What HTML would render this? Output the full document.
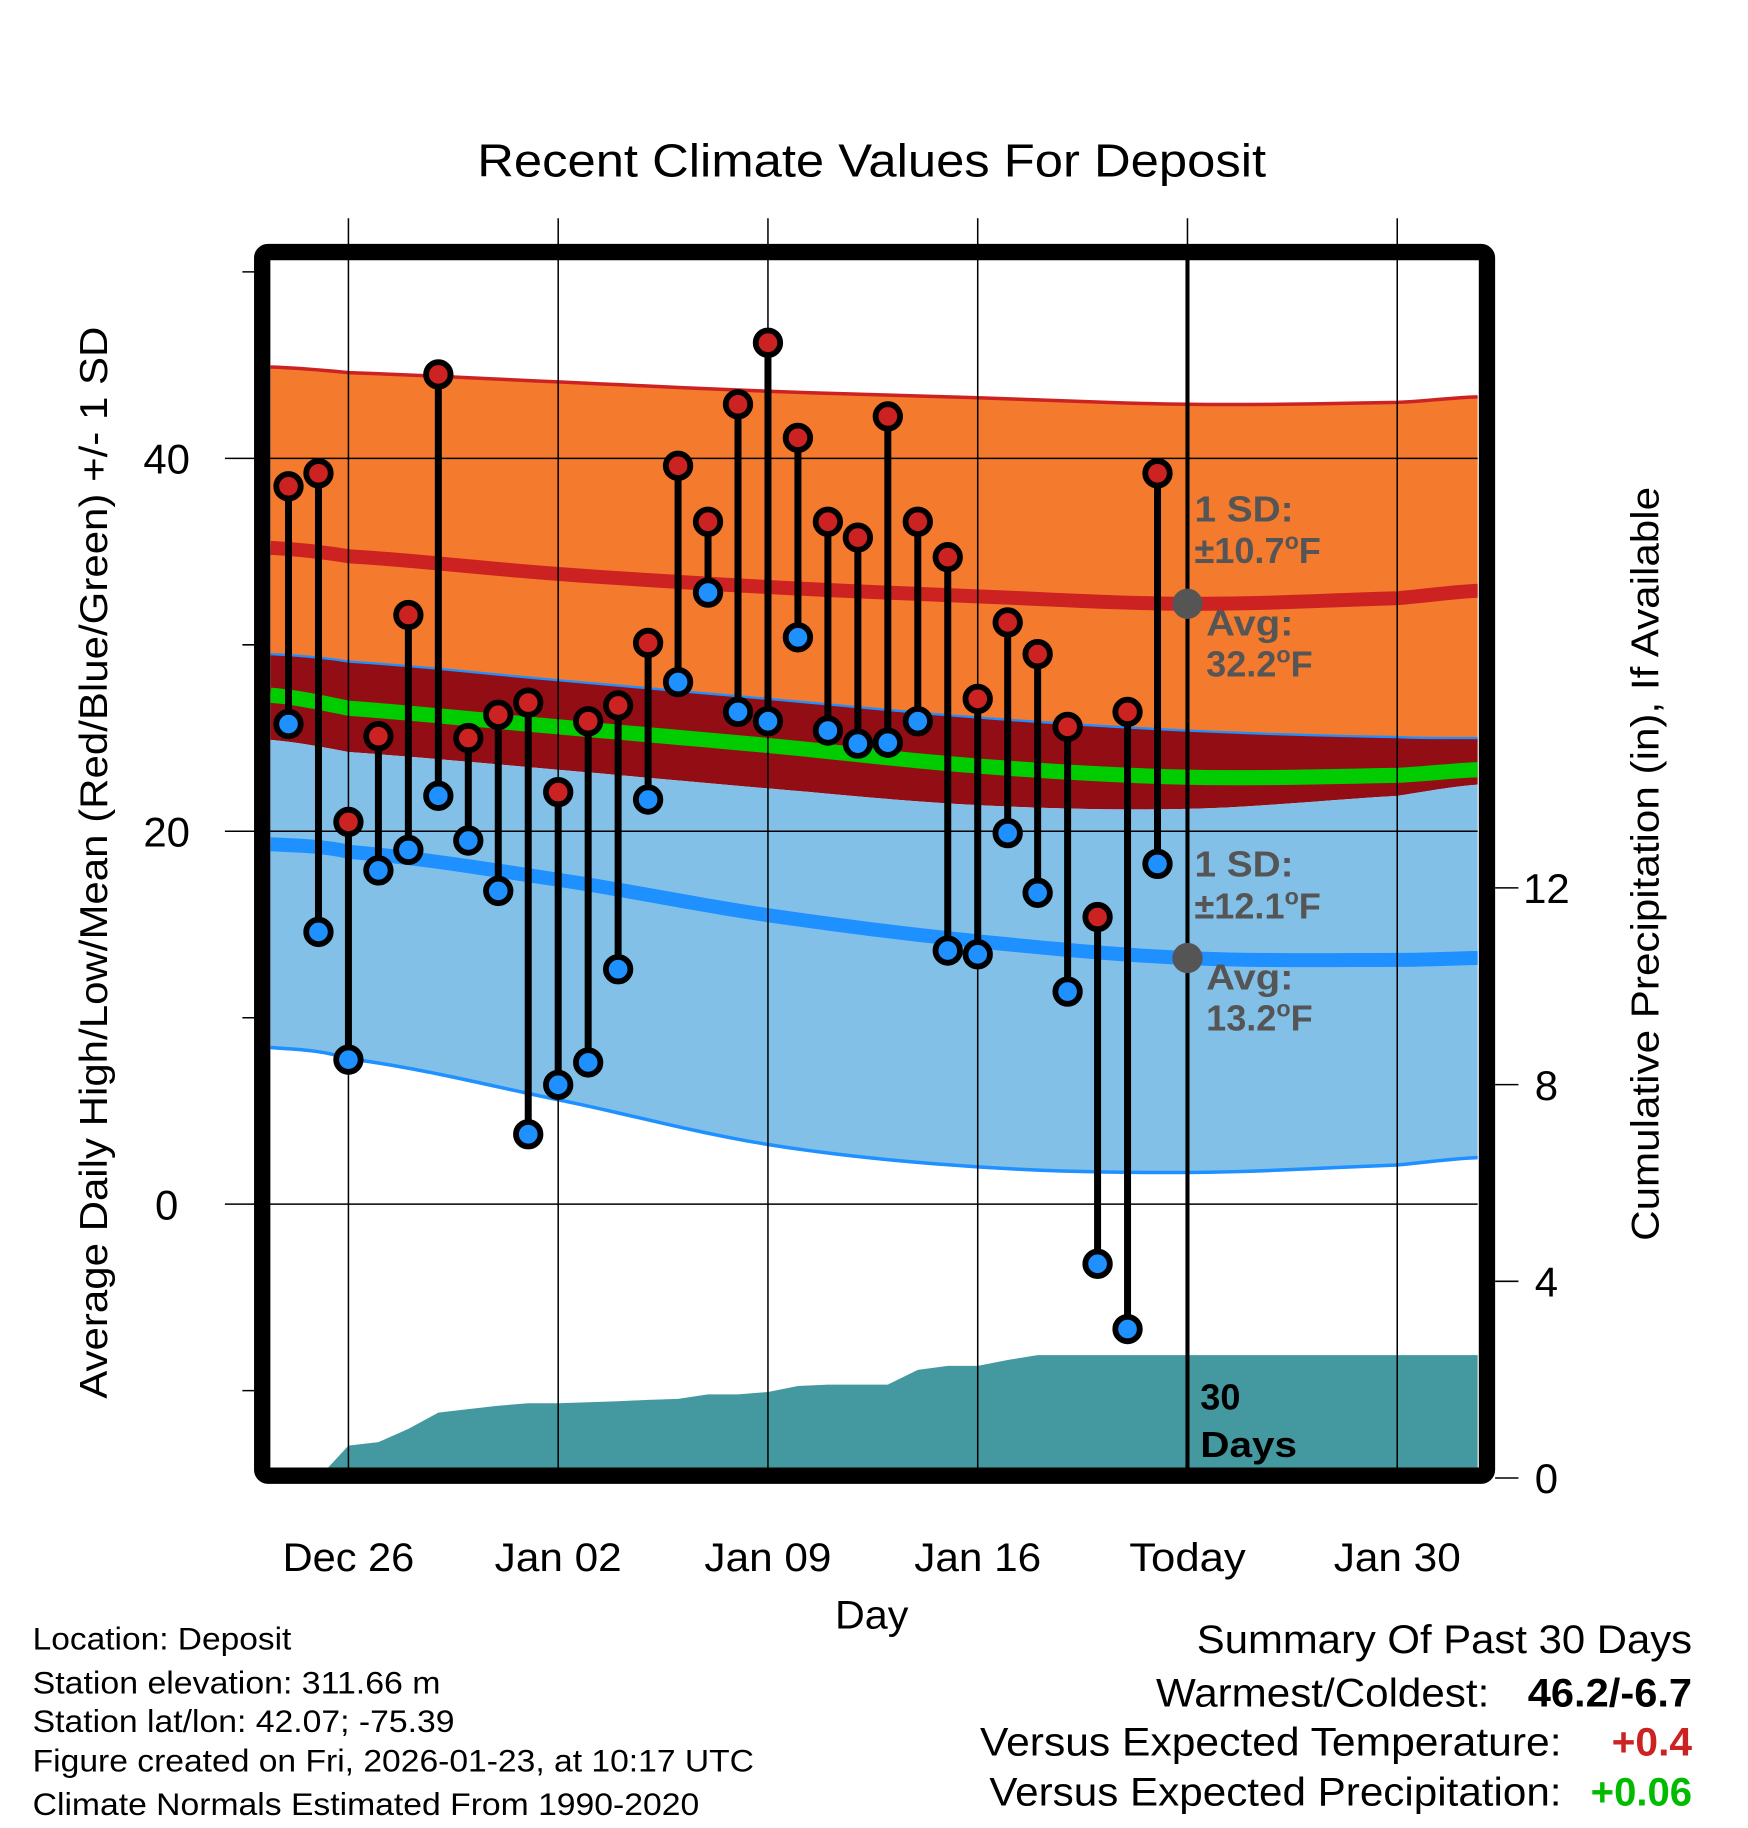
<!DOCTYPE html>
<html><head><meta charset="utf-8"><style>
html,body{margin:0;padding:0;background:#fff}
svg{display:block;font-family:"Liberation Sans",sans-serif}
</style></head><body>
<svg id="chart" width="1748" height="1828" viewBox="0 0 1500 1568" xmlns="http://www.w3.org/2000/svg">
<defs><clipPath id="pc"><rect x="232" y="222" width="1036" height="1037"/></clipPath></defs>
<rect width="1500" height="1568" fill="#fff"/>
<text x="748" y="151" font-size="40" text-anchor="middle" textLength="677" lengthAdjust="spacingAndGlyphs">Recent Climate Values For Deposit</text>
<g id="bands" clip-path="url(#pc)"></g>
<g id="grid"></g>
<g id="marks" clip-path="url(#pc)"></g>
<g id="annot" font-weight="bold" font-size="31" fill="#555">
<text x="1025" y="447" textLength="85" lengthAdjust="spacingAndGlyphs">1 SD:</text>
<text x="1025" y="483">±10.7<tspan font-size="20" dy="-12">o</tspan><tspan dy="12">F</tspan></text>
<text x="1035" y="545" textLength="75" lengthAdjust="spacingAndGlyphs">Avg:</text>
<text x="1035" y="580">32.2<tspan font-size="20" dy="-12">o</tspan><tspan dy="12">F</tspan></text>
<text x="1025" y="752" textLength="85" lengthAdjust="spacingAndGlyphs">1 SD:</text>
<text x="1025" y="788">±12.1<tspan font-size="20" dy="-12">o</tspan><tspan dy="12">F</tspan></text>
<text x="1035" y="849" textLength="75" lengthAdjust="spacingAndGlyphs">Avg:</text>
<text x="1035" y="884">13.2<tspan font-size="20" dy="-12">o</tspan><tspan dy="12">F</tspan></text>
<text x="1030" y="1209" fill="#000">30</text>
<text x="1030" y="1250" fill="#000" textLength="83" lengthAdjust="spacingAndGlyphs">Days</text>
</g>
<rect x="225" y="216" width="1051" height="1050" rx="5" fill="none" stroke="#000" stroke-width="14"/>
<g id="axes" font-size="36"></g>
<text x="748" y="1397" font-size="34" text-anchor="middle" textLength="63" lengthAdjust="spacingAndGlyphs">Day</text>
<text transform="translate(92,740) rotate(-90)" font-size="33" text-anchor="middle" textLength="920" lengthAdjust="spacingAndGlyphs">Average Daily High/Low/Mean (Red/Blue/Green) +/- 1 SD</text>
<text transform="translate(1423,741) rotate(-90)" font-size="33" text-anchor="middle" textLength="647" lengthAdjust="spacingAndGlyphs">Cumulative Precipitation (in), If Available</text>
<g font-size="27">
<text x="28" y="1415" textLength="222" lengthAdjust="spacingAndGlyphs">Location: Deposit</text>
<text x="28" y="1453" textLength="350" lengthAdjust="spacingAndGlyphs">Station elevation: 311.66 m</text>
<text x="28" y="1486" textLength="362" lengthAdjust="spacingAndGlyphs">Station lat/lon: 42.07; -75.39</text>
<text x="28" y="1520" textLength="619" lengthAdjust="spacingAndGlyphs">Figure created on Fri, 2026-01-23, at 10:17 UTC</text>
<text x="28" y="1557" textLength="572" lengthAdjust="spacingAndGlyphs">Climate Normals Estimated From 1990-2020</text>
</g>
<g font-size="34">
<text x="1027" y="1418" textLength="425" lengthAdjust="spacingAndGlyphs">Summary Of Past 30 Days</text>
<text x="992" y="1464" textLength="286" lengthAdjust="spacingAndGlyphs">Warmest/Coldest:</text>
<text x="1311" y="1464" font-weight="bold" textLength="141" lengthAdjust="spacingAndGlyphs">46.2/-6.7</text>
<text x="841" y="1506" textLength="499" lengthAdjust="spacingAndGlyphs">Versus Expected Temperature:</text>
<text x="1383" y="1506" font-weight="bold" fill="#CC2222" textLength="69" lengthAdjust="spacingAndGlyphs">+0.4</text>
<text x="849" y="1549" textLength="491" lengthAdjust="spacingAndGlyphs">Versus Expected Precipitation:</text>
<text x="1365" y="1549" font-weight="bold" fill="#00BB00" textLength="87" lengthAdjust="spacingAndGlyphs">+0.06</text>
</g>
</svg>
<script>
// Observed data (day offset from Dec 26)
const obsDays = [-2,-1,0,1,2,3,4,5,6,7,8,9,10,11,12,13,14,15,16,17,18,19,20,21,22,23,24,25,26,27];
const highs = [38.5,39.2,20.5,25.1,31.6,44.5,25.0,26.25,26.9,22.1,25.9,26.75,30.1,39.6,36.6,42.9,46.2,41.1,36.6,35.75,42.25,36.6,34.7,27.1,31.2,29.5,25.6,15.4,26.4,39.2];
const lows = [25.75,14.6,7.75,17.9,19.0,21.9,19.5,16.8,3.75,6.4,7.6,12.6,21.7,28.0,32.8,26.4,25.9,30.4,25.4,24.7,24.75,25.9,13.6,13.4,19.9,16.7,11.4,-3.2,-6.7,18.25];
const precip = [0,0,0.66,0.73,1.0,1.33,1.4,1.47,1.52,1.52,1.54,1.56,1.59,1.61,1.7,1.7,1.75,1.87,1.9,1.9,1.9,2.2,2.28,2.28,2.4,2.5,2.5,2.5,2.5,2.5];
// Normals
const normDays = [-2.6,0,7,14,21,28,35,37.7];
const hiPlus = [44.9,44.6,44.1,43.6,43.25,42.9,43.0,43.3];
const hiAvg = [35.2,34.75,33.8,33.1,32.6,32.2,32.5,32.9];
const hiMinus = [29.5,29.1,28.1,27.1,26.1,25.4,25.05,25.0];
const meanT = [27.3,26.6,25.6,24.6,23.5,22.9,23.0,23.3];
const loPlus = [24.9,24.25,23.3,22.3,21.4,21.2,21.9,22.5];
const loAvg = [19.3,18.9,17.4,15.5,14.1,13.2,13.1,13.2];
const loMinus = [8.4,7.8,5.6,3.2,2.0,1.7,2.1,2.5];
const xTickDays = [0,7,14,21,28,35];
const xTickLabels = ["Dec 26","Jan 02","Jan 09","Jan 16","Today","Jan 30"];
const yTicks = [40,20,0];
const yMinor = [50,30,10,-10];
const y2Ticks = [0,4,8,12];
const todayDay = 28;
const todayHighAvg = 32.2, todayLowAvg = 13.2;

const X = d => 299 + d*180/7;
const Y = t => 1033 - t*16;
const Y2 = p => 1268 - p*42.2;
const NS = "http://www.w3.org/2000/svg";
function mk(tag, attrs, parent){const e=document.createElementNS(NS,tag);for(const k in attrs)e.setAttribute(k,attrs[k]);parent.appendChild(e);return e;}
const bands=document.getElementById('bands'), grid=document.getElementById('grid'), marks=document.getElementById('marks'), axes=document.getElementById('axes');
// smooth sampled curve (Catmull-Rom through normals)
function sample(arr){
  const out=[];
  const n=normDays.length;
  for(let i=0;i<n-1;i++){
    const p0=arr[Math.max(i-1,0)],p1=arr[i],p2=arr[i+1],p3=arr[Math.min(i+2,n-1)];
    const d1=normDays[i],d2=normDays[i+1];
    for(let s=0;s<10;s++){
      const t=s/10;
      const v=0.5*((2*p1)+(-p0+p2)*t+(2*p0-5*p1+4*p2-p3)*t*t+(-p0+3*p1-3*p2+p3)*t*t*t);
      out.push(X(d1+(d2-d1)*t)+','+Y(v));
    }
  }
  out.push(X(normDays[n-1])+','+Y(arr[n-1]));
  return out;
}
function band(top,bot,fill,name){
  const pts=sample(top).concat(sample(bot).reverse());
  const p=mk('polygon',{points:pts.join(' '),fill:fill},bands);
  
  
}
function curve(arr,color,w,name){
  const p=mk('polyline',{points:sample(arr).join(' '),fill:'none',stroke:color,'stroke-width':w},bands);
  
  
}
band(hiPlus,hiMinus,'#F47A2E','high-sd-band');
band(hiMinus,loPlus,'#930E14','mid-band');
band(loPlus,loMinus,'#82C0E8','low-sd-band');
curve(hiPlus,'#CC2222',3,'high-plus-sd-line');
curve(hiMinus,'#1E90FF',2,'high-minus-sd-line');
curve(loMinus,'#1E90FF',3,'low-minus-sd-line');
curve(hiAvg,'#CC2222',12,'avg-high-line');
curve(meanT,'#00CC00',13,'mean-line');
curve(loAvg,'#1E90FF',12,'avg-low-line');
// precipitation area
let pp=[X(obsDays[0])+','+Y2(0)];
obsDays.forEach((d,i)=>pp.push(X(d)+','+Y2(precip[i])));
pp.push(X(37.7)+','+Y2(precip[precip.length-1]));
pp.push(X(37.7)+','+Y2(0));
const pa=mk('polygon',{points:pp.join(' '),fill:'#4499A0'},bands);


// grid
const tickLens=[113,109,109,109,100,109];
xTickDays.forEach((d,i)=>{
  const g=mk('line',{x1:X(d),x2:X(d),y1:187,y2:1259,stroke:'#000','stroke-width':1.3},grid);
  
  
  const t=mk('text',{x:X(d),y:1348,'text-anchor':'middle','font-size':34,textLength:tickLens[i],lengthAdjust:'spacingAndGlyphs'},axes);
  t.textContent=xTickLabels[i];
  
  
});
yTicks.forEach(v=>{
  const g=mk('line',{x1:193,x2:1268,y1:Y(v),y2:Y(v),stroke:'#000','stroke-width':1.3},grid);
  
  
  const t=mk('text',{x:143,y:Y(v)+13,'text-anchor':'middle'},axes);
  t.textContent=v;
  
  
});
yMinor.forEach(v=>{
  const g=mk('line',{x1:208,x2:222,y1:Y(v),y2:Y(v),stroke:'#000','stroke-width':1.3},grid);
  
  
});
y2Ticks.forEach(v=>{
  const g=mk('line',{x1:1283,x2:1303,y1:Y2(v),y2:Y2(v),stroke:'#000','stroke-width':1.3},axes);
  
  
  const t=mk('text',{x:1327,y:Y2(v)+13,'text-anchor':'middle'},axes);
  t.textContent=v;
  
  
});
// today line
const tl=mk('line',{x1:X(todayDay),x2:X(todayDay),y1:222,y2:1259,stroke:'#000','stroke-width':3.5},marks);


[todayHighAvg,todayLowAvg].forEach(v=>{
  const c=mk('circle',{cx:X(todayDay),cy:Y(v),r:13,fill:'#555'},marks);
  
  
});
// stems
obsDays.forEach((d,i)=>{
  const s=mk('line',{x1:X(d),x2:X(d),y1:Y(highs[i]),y2:Y(lows[i]),stroke:'#000','stroke-width':6},marks);
  
  
  const h=mk('circle',{cx:X(d),cy:Y(highs[i]),r:10.5,fill:'#CC2222',stroke:'#000','stroke-width':5},marks);
  
  
  const l=mk('circle',{cx:X(d),cy:Y(lows[i]),r:10.5,fill:'#1E90FF',stroke:'#000','stroke-width':5},marks);
  
  
});
</script>
</body></html>
